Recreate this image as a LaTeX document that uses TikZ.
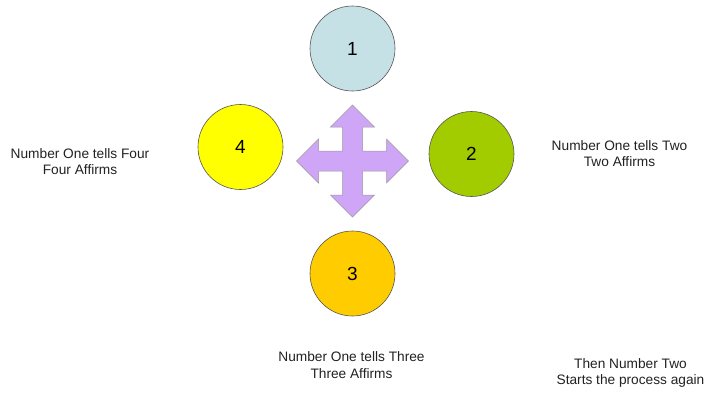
\documentclass[tikz,border=0pt]{standalone}
\usepackage{fontspec}
\setmainfont{Liberation Sans}
\definecolor{cOne}{HTML}{C5E1E6}
\definecolor{cTwo}{HTML}{A3CC00}
\definecolor{cThree}{HTML}{FFCC00}
\definecolor{cFour}{HTML}{FFFF00}
\definecolor{cArrow}{HTML}{CFA6F7}
\definecolor{cEdge}{HTML}{555555}
\definecolor{cText}{HTML}{222222}
\begin{document}
\begin{tikzpicture}[x=1pt,y=-1pt,
  ball/.style={circle,draw=cEdge,line width=0.6pt,minimum size=85pt,inner sep=0pt,font=\fontsize{19}{22}\selectfont,text=black},
  lbl/.style={align=center,font=\fontsize{13.7}{16.5}\selectfont,text=cText}]
\useasboundingbox (0,0) rectangle (709,392);
\fill[white] (0,0) rectangle (709,392);
\node[ball,fill=cOne] (n1) at (352.5,48.5) {1};
\node[ball,fill=cTwo] (n2) at (471.5,154) {2};
\node[ball,fill=cThree] (n3) at (352.5,273.5) {3};
\node[ball,fill=cFour] (n4) at (240.5,147) {4};
\begin{scope}[shift={(352.5,161)}]
\coordinate (arrowc) at (0,0);
\draw[fill=cArrow,draw=gray!80,line width=0.5pt,line join=miter]
 (0,-56) -- (22,-34) -- (10,-34) -- (10,-10) -- (34,-10) -- (34,-22) -- (56,0)
 -- (34,22) -- (34,10) -- (10,10) -- (10,34) -- (22,34) -- (0,56)
 -- (-22,34) -- (-10,34) -- (-10,10) -- (-34,10) -- (-34,22) -- (-56,0)
 -- (-34,-22) -- (-34,-10) -- (-10,-10) -- (-10,-34) -- (-22,-34) -- cycle;
\end{scope}
\node[lbl] (t4) at (80,161.5) {Number One tells Four\\Four Affirms};
\node[lbl] (t2) at (619.5,153.5) {Number One tells Two\\Two Affirms};
\node[lbl] (t3) at (351.5,365) {Number One tells Three\\Three Affirms};
\node[lbl] (t5) at (630.5,373) {Then Number Two\\Starts the process again};
\end{tikzpicture}
\end{document}
